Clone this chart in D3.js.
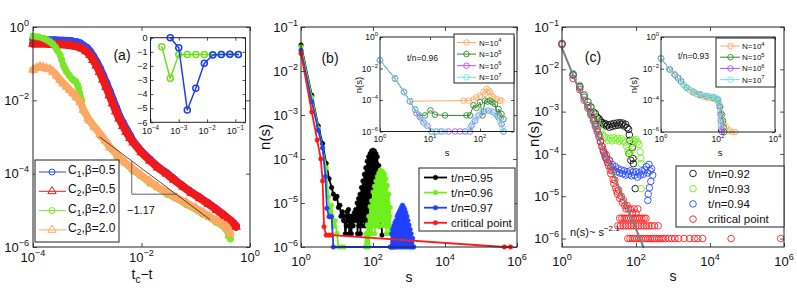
<!DOCTYPE html>
<html>
<head>
<meta charset="utf-8">
<script src="https://cdn.jsdelivr.net/npm/d3@7"></script>
<style>
  body { margin: 0; background: #fff; }
  svg { font-family: "Liberation Sans", Arial, Helvetica, sans-serif; }
</style>
</head>
<body>
<svg id="chart" width="797" height="293"></svg>
<script>
// values; log-log series are stored as [log10 x, log10 y]

// ---- panel (a): main
const aBlue = [[-4,-0.34],[-3.8,-0.34],[-3.6,-0.35],[-3.45,-0.36],[-3.3,-0.37],[-3.2,-0.4],[-3.13,-0.43],[-3.06,-0.5],[-3.0,-0.56],[-2.94,-0.67],[-2.88,-0.8],[-2.82,-0.95],[-2.76,-1.12],[-2.7,-1.32],[-2.64,-1.53],[-2.58,-1.75],[-2.52,-1.98],[-2.46,-2.2],[-2.4,-2.43],[-2.33,-2.62],[-2.27,-2.79],[-2.2,-2.97],[-2.15,-3.11],[-2.0,-3.38],[-1.84,-3.61],[-1.7,-3.8],[-1.54,-3.97],[-1.4,-4.14],[-1.23,-4.34],[-1.08,-4.5],[-0.92,-4.65],[-0.76,-4.81],[-0.61,-4.97],[-0.46,-5.15],[-0.31,-5.33],[-0.25,-5.42]];
const aRed = [[-4,-0.46],[-3.8,-0.46],[-3.6,-0.47],[-3.45,-0.48],[-3.3,-0.5],[-3.2,-0.53],[-3.1,-0.58],[-3.02,-0.66],[-2.95,-0.76],[-2.89,-0.9],[-2.83,-1.05],[-2.77,-1.23],[-2.71,-1.43],[-2.65,-1.64],[-2.59,-1.86],[-2.53,-2.08],[-2.47,-2.3],[-2.41,-2.5],[-2.34,-2.7],[-2.28,-2.86],[-2.21,-3.03],[-2.15,-3.15],[-2.0,-3.42],[-1.84,-3.65],[-1.7,-3.83],[-1.54,-4.0],[-1.4,-4.17],[-1.23,-4.36],[-1.08,-4.52],[-0.92,-4.67],[-0.76,-4.83],[-0.61,-4.99],[-0.46,-5.16],[-0.31,-5.34],[-0.26,-5.45]];
const aGreen = [[-4,-0.25],[-3.9,-0.27],[-3.81,-0.31],[-3.75,-0.35],[-3.69,-0.4],[-3.64,-0.46],[-3.59,-0.54],[-3.55,-0.64],[-3.5,-0.76],[-3.47,-0.9],[-3.44,-1.04],[-3.41,-1.13],[-3.38,-1.22],[-3.33,-1.32],[-3.29,-1.4],[-3.25,-1.45],[-3.21,-1.49],[-3.18,-1.58],[-3.16,-1.67],[-3.14,-1.8],[-3.12,-1.92],[-3.1,-2.02],[-3.07,-2.3],[-2.98,-2.55],[-2.76,-2.97],[-2.44,-3.55],[-2.15,-3.93],[-1.85,-4.26],[-1.52,-4.57],[-1.17,-4.85],[-0.87,-5.11],[-0.62,-5.33],[-0.45,-5.5],[-0.4,-5.7],[-0.36,-5.78]];
const aOrange = [[-4,-1.17],[-3.94,-1.12],[-3.87,-1.08],[-3.81,-1.1],[-3.75,-1.13],[-3.69,-1.15],[-3.63,-1.22],[-3.56,-1.33],[-3.5,-1.45],[-3.44,-1.54],[-3.38,-1.63],[-3.32,-1.72],[-3.26,-1.81],[-3.2,-1.92],[-3.13,-2.04],[-3.07,-2.26],[-2.98,-2.5],[-2.87,-2.72],[-2.76,-2.92],[-2.67,-3.1],[-2.58,-3.28],[-2.44,-3.5],[-2.3,-3.7],[-2.15,-3.88],[-2.0,-4.05],[-1.85,-4.21],[-1.7,-4.37],[-1.52,-4.52],[-1.35,-4.66],[-1.17,-4.8],[-1.0,-4.94],[-0.87,-5.06],[-0.74,-5.18],[-0.62,-5.28],[-0.5,-5.38],[-0.43,-5.44],[-0.4,-5.52],[-0.37,-5.63]];
const aFit = [[-2.77,-3.0],[-0.74,-5.25]];
const aSlope = [[-2.18,-3.65],[-2.18,-4.56],[-1.35,-4.56]];
const aLegend = ["1,β=0.5", "2,β=0.5", "1,β=2.0", "2,β=2.0"];
const aXTicks = [1e-4, 1e-2, 1];
const aYTicks = [1e-6, 1e-4, 1e-2, 1];

// ---- panel (a): inset, exponent vs t_c - t
const iaGreenX = [2.5e-4, 5e-4, 1e-3, 2e-3, 4e-3, 8e-3, 1.6e-2, 3.2e-2, 6.4e-2, 0.128];
const iaGreenY = [-0.64, -2.88, -1.2, -1.2, -1.2, -1.2, -1.2, -1.2, -1.2, -1.2];
const iaBlueX = [5e-4, 1e-3, 2e-3, 4e-3, 8e-3, 1.6e-2, 3.2e-2, 6.4e-2, 0.128];
const iaBlueY = [0, -0.71, -5.13, -3.59, -1.82, -1.23, -1.2, -1.18, -1.2];
const iaXTicks = [1e-4, 1e-3, 1e-2, 1e-1];
const iaYTicks = [0, -1, -2, -3, -4, -5, -6];

// ---- panel (b): main
const bBlack = [[0,-1.41],[0.3,-2.55],[0.48,-3.25],[0.6,-3.65],[0.7,-4.1],[0.78,-4.45],[0.85,-4.65],[0.9,-4.8],[0.95,-4.9],[1.0,-4.85],[1.04,-5.1],[1.08,-5.05],[1.11,-5.3],[1.15,-5.2],[1.18,-5.4],[1.2,-5.3],[1.23,-5.7],[1.26,-5.52],[1.28,-5.2],[1.3,-5.4],[1.32,-5.15],[1.34,-5.7],[1.36,-5.3],[1.38,-5.52],[1.4,-5.7],[1.42,-5.3],[1.45,-5.52],[1.48,-5.22],[1.5,-5.4],[1.52,-5.15],[1.54,-5.3],
  [1.56,-5.0],[1.57,-5.7],[1.58,-5.2],[1.6,-4.9],[1.61,-5.52],[1.62,-5.1],[1.64,-4.8],[1.65,-5.7],[1.66,-4.95],[1.68,-4.65],[1.69,-5.52],[1.7,-4.8],[1.72,-4.5],[1.73,-5.4],[1.74,-4.65],[1.76,-4.35],[1.77,-5.52],[1.78,-4.5],[1.8,-4.2],[1.81,-5.3],[1.82,-4.35],[1.84,-4.05],[1.85,-5.4],[1.86,-4.2],[1.88,-3.95],[1.89,-5.22],[1.9,-4.1],[1.92,-3.88],[1.93,-5.3],[1.94,-4.0],[1.96,-3.82],[1.97,-5.15],[1.98,-3.95],[2.0,-3.8],[2.01,-5.22],[2.02,-3.92],[2.04,-3.82],[2.05,-5.3],[2.06,-4.0],[2.08,-3.88],[2.09,-5.4],[2.1,-4.1],[2.12,-3.95],[2.13,-5.3],[2.14,-4.3],[2.16,-4.15],[2.17,-5.52],[2.18,-4.6],[2.2,-4.4],[2.21,-5.52],[2.22,-5.0],[2.23,-4.8],[2.24,-5.4],[2.25,-5.73]];
const bGreen = [[0,-1.45],[0.3,-2.6],[0.48,-3.3],[0.6,-3.75],[0.7,-4.2],[0.76,-4.86],[0.81,-5.31],[0.85,-5.05],[0.9,-5.54],[0.95,-5.4],[1.0,-5.69],[1.04,-6],[1.12,-6],[1.2,-6],[1.78,-6],
  [1.8,-5.7],[1.82,-6],[1.84,-5.5],[1.85,-6],[1.86,-5.7],[1.88,-5.3],[1.89,-6],[1.9,-5.52],[1.92,-5.08],[1.93,-5.7],[1.94,-5.3],[1.96,-4.95],[1.97,-5.7],[1.98,-5.15],[2.0,-4.75],[2.01,-5.52],[2.02,-5.0],[2.04,-4.62],[2.05,-5.7],[2.06,-4.85],[2.08,-4.5],[2.09,-5.52],[2.1,-4.7],[2.12,-4.4],[2.13,-5.4],[2.14,-4.6],[2.16,-4.32],[2.17,-5.52],[2.18,-4.5],[2.2,-4.25],[2.21,-5.4],[2.22,-4.45],[2.24,-4.27],[2.25,-5.52],[2.26,-4.5],[2.28,-4.3],[2.29,-5.4],[2.3,-4.55],[2.32,-4.35],[2.33,-5.52],[2.34,-4.65],[2.36,-4.45],[2.37,-5.7],[2.38,-4.8],[2.4,-4.6],[2.41,-5.52],[2.42,-5.0],[2.44,-4.8],[2.45,-5.7],[2.46,-5.3],[2.48,-5.1],[2.49,-5.7],[2.5,-5.6],[2.52,-6]];
const bBlue = [[0,-1.53],[0.3,-2.7],[0.48,-3.35],[0.6,-3.75],[0.68,-4.4],[0.72,-5.12],[0.78,-5.31],[0.85,-5.31],[0.9,-6],[2.48,-6],
  [2.5,-6],[2.52,-5.7],[2.53,-6],[2.55,-5.6],[2.56,-6],[2.58,-5.52],[2.59,-6],[2.61,-5.45],[2.62,-6],[2.64,-5.4],[2.65,-5.9],[2.67,-5.3],[2.68,-6],[2.7,-5.25],[2.71,-5.9],[2.73,-5.2],[2.74,-6],[2.76,-5.15],[2.77,-5.9],[2.79,-5.1],[2.8,-6],[2.82,-5.05],[2.83,-5.9],[2.85,-5.1],[2.86,-6],[2.88,-5.15],[2.89,-5.9],[2.91,-5.22],[2.92,-6],[2.94,-5.3],[2.95,-5.9],[2.97,-5.4],[2.98,-6],[3.0,-5.5],[3.01,-5.9],[3.03,-5.6],[3.04,-6],[3.06,-5.7],[3.08,-6],[3.1,-5.8],[3.13,-6]];
const bRed = [[0,-1.6],[0.3,-2.93],[0.45,-3.57],[0.55,-4.0],[0.6,-4.5],[0.64,-5.54],[0.7,-5.73],[0.78,-5.73],[0.86,-5.73],[5.65,-6],[5.82,-6]];
const bLegend = ["t/n=0.95", "t/n=0.96", "t/n=0.97", "critical point"];
const bXTicks = [1, 1e2, 1e4, 1e6];
const bYTicks = [1e-6, 1e-5, 1e-4, 1e-3, 1e-2, 1e-1];

// ---- panel (b): inset, t/n = 0.96 for several N
const ibOrange = [[0,-1.47],[0.3,-2.64],[0.48,-3.49],[0.6,-4.08],[1.67,-4.04],[1.77,-4.04],[1.87,-3.97],[1.93,-3.83],[2.0,-3.72],[2.07,-3.5],[2.1,-3.61],[2.13,-3.29],[2.17,-3.4],[2.2,-3.5],[2.23,-3.72],[2.27,-3.83],[2.33,-3.93],[2.4,-4.04],[2.43,-4.04]];
const ibGreen = [[0,-1.47],[0.3,-2.64],[0.48,-3.49],[0.6,-4.08],[0.7,-4.6],[0.79,-4.98],[0.9,-4.98],[1.01,-4.66],[1.1,-4.93],[1.3,-4.98],[1.73,-4.98],[1.8,-4.98],[1.87,-4.34],[1.93,-4.5],[2.0,-4.14],[2.05,-4.98],[2.1,-4.04],[2.15,-4.1],[2.2,-4.04],[2.25,-4.15],[2.3,-4.25],[2.35,-4.98],[2.37,-4.57],[2.43,-4.89],[2.47,-5.21]];
const ibPurple = [[0,-1.47],[0.3,-2.64],[0.48,-3.49],[0.6,-4.08],[0.73,-4.83],[0.8,-5.1],[0.87,-5.43],[0.95,-5.64],[1.03,-6],[1.13,-6],[1.23,-6],[1.37,-6],[1.5,-6],[1.6,-6],[1.7,-6],[1.8,-6],[1.83,-5.64],[1.9,-5.32],[1.97,-4.98],[2.07,-4.74],[2.17,-4.68],[2.27,-4.79],[2.37,-5.1],[2.43,-5.53],[2.47,-6]];
const ibCyan = [[0,-1.47],[0.3,-2.64],[0.48,-3.49],[0.6,-4.08],[0.7,-4.57],[0.79,-4.98],[0.87,-5.32],[0.93,-5.64],[1.03,-6],[1.12,-6],[1.2,-6],[1.3,-6],[1.73,-6],[1.8,-5.8],[1.87,-5.43],[1.93,-5.1],[2.03,-4.83],[2.13,-4.68],[2.23,-4.72],[2.33,-4.98],[2.4,-5.32],[2.45,-5.75],[2.47,-6]];
const insetLegend = ["4", "5", "6", "7"];
const ibXTicks = [1, 10, 100];
const insetYTicks = [1e-6, 1e-4, 1e-2, 1];

// ---- panel (c): main
const cBlack = [[0,-1.39],[0.3,-2.12],[0.48,-2.4],[0.6,-2.61],[0.7,-2.77],[0.78,-2.89],[0.85,-3.01],[0.9,-3.05],[0.95,-3.13],[1.0,-3.17],[1.04,-3.22],[1.08,-3.26],[1.12,-3.3],[1.16,-3.28],[1.2,-3.34],[1.24,-3.31],[1.28,-3.37],[1.32,-3.3],[1.36,-3.35],[1.4,-3.28],[1.44,-3.33],[1.48,-3.27],[1.52,-3.32],[1.56,-3.26],[1.6,-3.31],[1.64,-3.27],[1.68,-3.34],[1.72,-3.3],[1.76,-3.38],[1.8,-3.42],[1.82,-3.55],[1.83,-3.68],[1.81,-3.99],[1.86,-4.15],[1.9,-3.85],[1.92,-4.11],[1.93,-4.23],[1.98,-4.82]];
const cGreen = [[0,-1.39],[0.3,-2.1],[0.48,-2.38],[0.6,-2.6],[0.7,-2.78],[0.78,-2.92],[0.85,-3.05],[0.9,-3.15],[0.95,-3.25],[1.0,-3.35],[1.05,-3.45],[1.1,-3.55],[1.15,-3.6],[1.2,-3.62],[1.25,-3.68],[1.3,-3.63],[1.35,-3.69],[1.4,-3.62],[1.45,-3.67],[1.5,-3.63],[1.55,-3.7],[1.6,-3.64],[1.65,-3.69],[1.7,-3.72],[1.75,-3.82],[1.78,-3.92],[1.82,-4.0],[1.86,-3.95],[1.88,-3.75],[1.92,-3.67],[1.96,-3.7],[2.0,-3.66],[2.04,-3.72],[2.08,-3.78],[2.11,-3.95],[2.13,-4.1],[2.14,-4.23],[2.14,-4.82]];
const cBlue = [[0,-1.4],[0.3,-2.14],[0.48,-2.43],[0.6,-2.66],[0.7,-2.86],[0.78,-3.02],[0.85,-3.17],[0.9,-3.3],[0.95,-3.42],[1.0,-3.55],[1.04,-3.7],[1.08,-3.82],[1.12,-3.95],[1.16,-4.05],[1.2,-4.12],[1.24,-4.2],[1.28,-4.15],[1.32,-4.3],[1.36,-4.25],[1.4,-4.38],[1.44,-4.3],[1.48,-4.42],[1.52,-4.35],[1.56,-4.45],[1.6,-4.38],[1.64,-4.47],[1.68,-4.4],[1.72,-4.5],[1.76,-4.42],[1.8,-4.48],[1.84,-4.4],[1.88,-4.52],[1.92,-4.43],[1.96,-4.5],[2.0,-4.42],[2.04,-4.55],[2.08,-4.45],[2.12,-4.5],[2.16,-4.4],[2.2,-4.48],[2.24,-4.38],[2.28,-4.3],[2.32,-4.45],[2.35,-4.25],[2.38,-4.4],[2.42,-4.35],[2.45,-4.5],[2.4,-4.65],[2.36,-4.8],[2.33,-4.95],[2.32,-5.1]];
const cRed = [[0,-1.42],[0.3,-2.22],[0.48,-2.48],[0.6,-2.73],[0.7,-2.92],[0.78,-3.08],[0.85,-3.22],[0.9,-3.35],[0.95,-3.47],[1.0,-3.6],[1.04,-3.72],[1.08,-3.82],[1.11,-3.9],[1.15,-3.98],[1.18,-4.1],[1.2,-4.02],[1.23,-4.2],[1.26,-4.28],[1.28,-4.15],[1.3,-4.38],[1.32,-4.47],[1.35,-4.4],[1.38,-4.6],[1.4,-4.7],[1.43,-4.62],[1.45,-4.8],[1.48,-4.88],[1.5,-4.95],[1.53,-4.85],[1.56,-5.05],[1.6,-5.0],[1.63,-5.15],[1.66,-5.1],[1.7,-5.22],[1.73,-5.3],[1.76,-5.22],[1.8,-5.3],[1.85,-5.3],[1.9,-5.4],[1.95,-5.3],[2.0,-5.4],[2.05,-5.3],
  [1.56,-5.52],[1.62,-5.52],[1.68,-5.52],[1.74,-5.52],[1.8,-5.52],[1.86,-5.52],[1.92,-5.52],[1.98,-5.52],[2.04,-5.52],[2.1,-5.52],[2.16,-5.52],[2.22,-5.52],[2.27,-5.52],
  [1.51,-5.7],[1.58,-5.7],[1.65,-5.7],[1.72,-5.7],[1.79,-5.7],[1.86,-5.7],[1.93,-5.7],[2.0,-5.7],[2.07,-5.7],[2.14,-5.7],[2.21,-5.7],[2.28,-5.7],[2.35,-5.7],[2.42,-5.7],[2.5,-5.7],[2.6,-5.7],
  [1.78,-6],[1.84,-6],[1.9,-6],[1.96,-6],[2.02,-6],[2.08,-6],[2.14,-6],[2.2,-6],[2.26,-6],[2.32,-6],[2.38,-6],[2.44,-6],[2.5,-6],[2.56,-6],[2.62,-6],[2.68,-6],[2.74,-6],[2.8,-6],[2.88,-6],[2.96,-6],[3.05,-6],[3.15,-6],[3.3,-6],[3.45,-6],[3.58,-6],[3.67,-6],[3.8,-6],[4.57,-6],[5.91,-6]];
const cFit = [[0,-1.5],[2.2,-6.2]];
const cLegend = ["t/n=0.92", "t/n=0.93", "t/n=0.94", "critical point"];
const cXTicks = [1, 1e2, 1e4, 1e6];
const cYTicks = [1e-6, 1e-5, 1e-4, 1e-3, 1e-2, 1e-1];

// ---- panel (c): inset, t/n = 0.93 for several N
const icOrange = [[0,-1.35],[0.3,-2.06],[0.48,-2.4],[0.6,-2.62],[0.7,-2.82],[0.8,-3.02],[0.9,-3.22],[1.0,-3.36],[1.13,-3.52],[1.25,-3.62],[1.37,-3.7],[1.5,-3.78],[1.6,-3.82],[1.72,-3.86],[1.84,-3.9],[1.95,-3.98],[2.02,-4.15],[2.06,-4.4],[2.1,-4.8],[2.14,-5.2],[2.2,-5.5],[2.3,-5.7],[2.4,-5.9],[2.5,-6],[2.6,-6]];
const icGreen = [[0,-1.35],[0.3,-2.04],[0.48,-2.37],[0.6,-2.58],[0.7,-2.79],[0.9,-3.2],[1.13,-3.47],[1.37,-3.64],[1.6,-3.74],[1.84,-3.82],[2.0,-3.96],[2.08,-4.4],[2.14,-4.9],[2.18,-5.3],[2.2,-5.7],[2.22,-6]];
const icPurple = [[0,-1.35],[0.3,-2.04],[0.48,-2.37],[0.6,-2.58],[0.7,-2.79],[0.9,-3.2],[1.13,-3.46],[1.37,-3.63],[1.6,-3.73],[1.84,-3.8],[1.98,-3.93],[2.06,-4.4],[2.08,-4.9],[2.1,-5.3],[2.11,-5.6],[2.12,-5.85],[2.14,-6]];
const icCyan = [[0,-1.35],[0.28,-2.04],[0.47,-2.36],[0.57,-2.57],[0.67,-2.78],[0.75,-2.95],[0.82,-3.07],[0.9,-3.2],[1.0,-3.32],[1.13,-3.46],[1.25,-3.56],[1.37,-3.63],[1.5,-3.69],[1.6,-3.73],[1.72,-3.76],[1.84,-3.79],[1.92,-3.84],[1.98,-3.92],[2.02,-4.1],[2.05,-4.3],[2.07,-4.73],[2.09,-5.15],[2.12,-5.57]];
const icXTicks = [1, 1e2, 1e4];

const svg = d3.select("#chart");
const toVal = (p) => [10 ** p[0], 10 ** p[1]];
const INK = "#222";

function makePanel(box, x, y, white) {
  const g = svg.append("g");
  if (white) {
    g.append("rect")
      .attr("x", box.l).attr("y", box.t)
      .attr("width", box.r - box.l).attr("height", box.b - box.t)
      .attr("fill", "#fff");
  }
  x.range([box.l, box.r]);
  y.range([box.b, box.t]);
  return { g, x, y, box, data: g.append("g") };
}

function frame(p, xt, yt, len) {
  const { g, x, y, box } = p;
  const ax = g.append("g");
  const tick = (a, vals) => a.tickValues(vals).tickSizeInner(-len).tickSizeOuter(0).tickFormat("");
  ax.append("g").attr("transform", `translate(0,${box.b})`).call(tick(d3.axisBottom(x), xt));
  ax.append("g").attr("transform", `translate(0,${box.t})`).call(tick(d3.axisTop(x), xt));
  ax.append("g").attr("transform", `translate(${box.l},0)`).call(tick(d3.axisLeft(y), yt));
  ax.append("g").attr("transform", `translate(${box.r},0)`).call(tick(d3.axisRight(y), yt));
  ax.selectAll(".domain").remove();
  ax.selectAll("line").attr("stroke", INK).attr("stroke-width", 0.8);
  ax.append("rect")
    .attr("x", box.l).attr("y", box.t)
    .attr("width", box.r - box.l).attr("height", box.b - box.t)
    .attr("fill", "none").attr("stroke", INK).attr("stroke-width", 1);
}

function powLabel(g, px, py, e, fs, anchor) {
  const t = g.append("text")
    .attr("x", px).attr("y", py)
    .attr("font-size", fs).attr("text-anchor", anchor).attr("fill", "#111");
  t.append("tspan").text("10");
  t.append("tspan")
    .attr("font-size", fs * 0.7).attr("dy", -fs * 0.45)
    .text(e < 0 ? "\u2212" + -e : String(e));
}

function xPowLabels(p, vals, fs, dy) {
  vals.forEach((v) => powLabel(p.g, p.x(v), p.box.b + dy, Math.round(Math.log10(v)), fs, "middle"));
}

function yPowLabels(p, vals, fs, dx) {
  vals.forEach((v) => powLabel(p.g, p.box.l - dx, p.y(v) + fs * 0.36, Math.round(Math.log10(v)), fs, "end"));
}

function drawLine(p, vals, color, width) {
  p.data.append("path")
    .datum(vals)
    .attr("d", d3.line().x((d) => p.x(d[0])).y((d) => p.y(d[1])))
    .attr("fill", "none").attr("stroke", color)
    .attr("stroke-width", width)
    .attr("stroke-linejoin", "round").attr("stroke-linecap", "round");
}

function drawCircles(p, vals, color, r, filled, sw) {
  p.data.selectAll(null)
    .data(vals)
    .join("circle")
    .attr("cx", (d) => p.x(d[0])).attr("cy", (d) => p.y(d[1]))
    .attr("r", r)
    .attr("fill", filled ? color : "none")
    .attr("stroke", color).attr("stroke-width", sw);
}

function drawTriangles(p, vals, color, size, sw) {
  p.data.selectAll(null)
    .data(vals)
    .join("path")
    .attr("transform", (d) => `translate(${p.x(d[0])},${p.y(d[1])})`)
    .attr("d", d3.symbol(d3.symbolTriangle, size)())
    .attr("fill", "none")
    .attr("stroke", color).attr("stroke-width", sw);
}

function legendBox(g, x0, y0, x1, y1) {
  g.append("rect")
    .attr("x", x0).attr("y", y0)
    .attr("width", x1 - x0).attr("height", y1 - y0)
    .attr("fill", "#fff").attr("stroke", INK).attr("stroke-width", 1);
}

function legendMark(g, cx, cy, o) {
  if (o.shape === "tri") {
    g.append("path")
      .attr("transform", `translate(${cx},${cy})`)
      .attr("d", d3.symbol(d3.symbolTriangle, o.size)())
      .attr("fill", "none").attr("stroke", o.color).attr("stroke-width", o.sw);
  } else {
    g.append("circle")
      .attr("cx", cx).attr("cy", cy).attr("r", o.r)
      .attr("fill", o.filled ? o.color : "none")
      .attr("stroke", o.color).attr("stroke-width", o.sw);
  }
}

function plainText(g, x, y, str, fs, anchor) {
  return g.append("text")
    .attr("x", x).attr("y", y)
    .attr("font-size", fs).attr("text-anchor", anchor || "start")
    .attr("fill", "#111").text(str);
}

// ================= panel (a)
const pa = makePanel({ l: 33, r: 250, t: 27, b: 247 },
  d3.scaleLog().domain([1e-4, 1]), d3.scaleLog().domain([1e-6, 1]), false);
const aColors = ["#2a4bf5", "#f01a1a", "#7be52c", "#ffa864"];
[[aBlue, 0, "o", 7], [aRed, 1, "t", 8], [aGreen, 2, "o", 5.5], [aOrange, 3, "t", 7.5]].forEach(([arr, k, shape, w]) => {
  const vals = arr.map(toVal);
  drawLine(pa, vals, aColors[k], w);
  if (shape === "o") drawCircles(pa, vals, aColors[k], 3, false, 1.1);
  else drawTriangles(pa, vals, aColors[k], 30, 1.1);
});
drawLine(pa, aFit.map(toVal), "#222", 0.8);
pa.data.append("path")
  .datum(aSlope.map(toVal))
  .attr("d", d3.line().x((d) => pa.x(d[0])).y((d) => pa.y(d[1])))
  .attr("fill", "none").attr("stroke", "#555").attr("stroke-width", 0.9);
plainText(pa.g, 141, 214, "\u22121.17", 11, "middle");
frame(pa, aXTicks, aYTicks, 4);
xPowLabels(pa, aXTicks, 13, 15);
yPowLabels(pa, aYTicks, 13, 4);
plainText(pa.g, 122, 60, "(a)", 14, "middle");
{
  const t = pa.g.append("text").attr("x", 142).attr("y", 279).attr("font-size", 14)
    .attr("text-anchor", "middle").attr("fill", "#111");
  t.append("tspan").text("t");
  t.append("tspan").attr("font-size", 10).attr("dy", 4).text("c");
  t.append("tspan").attr("dy", -4).text("\u2212t");
}
// legend (a)
legendBox(pa.g, 35, 160, 119, 242);
aLegend.forEach((lab, i) => {
  const yy = 172 + i * 19.3;
  const tri = i % 2 === 1;
  pa.g.append("line").attr("x1", 39).attr("x2", 66).attr("y1", yy).attr("y2", yy)
    .attr("stroke", aColors[i]).attr("stroke-width", 1);
  legendMark(pa.g, 52, yy, { shape: tri ? "tri" : "o", size: 30, r: 3, color: aColors[i], sw: 1 });
  const t = pa.g.append("text").attr("x", 68).attr("y", yy + 2).attr("font-size", 12).attr("fill", "#111");
  t.append("tspan").text("C");
  t.append("tspan").attr("font-size", 8.5).attr("dy", 3).text(lab.charAt(0));
  t.append("tspan").attr("dy", -3).text(lab.slice(1));
});

// inset (a)
const pia = makePanel({ l: 150.5, r: 245.5, t: 37.7, b: 122.3 },
  d3.scaleLog().domain([1e-4, 10 ** -0.64]), d3.scaleLinear().domain([-6, 0]), true);
const iaGreen = iaGreenX.map((v, i) => [v, iaGreenY[i]]);
const iaBlue = iaBlueX.map((v, i) => [v, iaBlueY[i]]);
drawLine(pia, iaGreen, "#6ee01c", 1.5);
drawCircles(pia, iaGreen, "#6ee01c", 3, false, 1.5);
drawLine(pia, iaBlue, "#2040e8", 1.5);
drawCircles(pia, iaBlue, "#2040e8", 3, false, 1.5);
frame(pia, iaXTicks, iaYTicks, 3);
xPowLabels(pia, iaXTicks, 9, 11.5);
iaYTicks.forEach((v) => plainText(pia.g, pia.box.l - 3, pia.y(v) + 3.2, v < 0 ? "\u2212" + -v : String(v), 9, "end"));

// ================= panel (b)
const pb = makePanel({ l: 301, r: 517, t: 27, b: 247 },
  d3.scaleLog().domain([1, 1e6]), d3.scaleLog().domain([1e-6, 1e-1]), false);
const bColors = ["#000000", "#6ff01c", "#2040ff", "#ff1a1a"];
[bBlack, bGreen, bBlue, bRed].forEach((arr, k) => {
  const vals = arr.map(toVal);
  drawLine(pb, vals, bColors[k], 1.8);
  drawCircles(pb, vals, bColors[k], 2.3, true, 0.5);
});
frame(pb, bXTicks, bYTicks, 4);
xPowLabels(pb, bXTicks, 13, 19);
yPowLabels(pb, bYTicks, 13, 3);
plainText(pb.g, 330, 63, "(b)", 14, "middle");
plainText(pb.g, 409, 282, "s", 14, "middle");
pb.g.append("text").attr("transform", "translate(270,137) rotate(-90)")
  .attr("font-size", 15).attr("text-anchor", "middle").attr("fill", "#111").text("n(s)");
legendBox(pb.g, 419, 168, 515, 231);
bLegend.forEach((lab, i) => {
  const yy = 177.5 + i * 15.1;
  pb.g.append("line").attr("x1", 424).attr("x2", 447).attr("y1", yy).attr("y2", yy)
    .attr("stroke", bColors[i]).attr("stroke-width", 1.8);
  legendMark(pb.g, 435.5, yy, { r: 2.3, color: bColors[i], filled: true, sw: 0.5 });
  plainText(pb.g, 451, yy + 4, lab, 11.5);
});

// inset (b)
const insetColors = ["#ffaa66", "#2e8b2e", "#b54cff", "#6ee8d5"];
const pib = makePanel({ l: 380, r: 514, t: 37, b: 131.5 },
  d3.scaleLog().domain([1, 10 ** 2.68]), d3.scaleLog().domain([1e-6, 1]), true);
[ibOrange, ibGreen, ibPurple, ibCyan].forEach((arr, k) => {
  const vals = arr.map(toVal);
  drawLine(pib, vals, insetColors[k], 1);
  drawCircles(pib, vals, insetColors[k], 2.8, false, 0.9);
});
frame(pib, ibXTicks, insetYTicks, 3);
xPowLabels(pib, ibXTicks, 8.5, 10);
yPowLabels(pib, insetYTicks, 8.5, 2);
plainText(pib.g, 407, 61, "t/n=0.96", 8.5);
plainText(pib.g, 447, 156, "s", 9.5, "middle");
pib.g.append("text").attr("transform", "translate(362,85) rotate(-90)")
  .attr("font-size", 9.5).attr("text-anchor", "middle").attr("fill", "#111").text("n(s)");

function insetLegend2(p, x0, y0, x1, y1, rowY, rowDy, lx, mx, tx) {
  legendBox(p.g, x0, y0, x1, y1);
  insetLegend.forEach((e, i) => {
    const yy = rowY + i * rowDy;
    p.g.append("line").attr("x1", lx[0]).attr("x2", lx[1]).attr("y1", yy).attr("y2", yy)
      .attr("stroke", insetColors[i]).attr("stroke-width", 1);
    legendMark(p.g, mx, yy, { r: 2.8, color: insetColors[i], sw: 0.9 });
    const t = p.g.append("text").attr("x", tx).attr("y", yy + 3).attr("font-size", 8).attr("fill", "#111");
    t.append("tspan").text("N=10");
    t.append("tspan").attr("font-size", 5.8).attr("dy", -3.5).text(e);
  });
}
insetLegend2(pib, 454, 34, 514, 83, 42.5, 11.6, [457, 476], 466.5, 479);

// ================= panel (c)
const pc = makePanel({ l: 562, r: 784, t: 27, b: 247 },
  d3.scaleLog().domain([1, 1e6]), d3.scaleLog().domain([10 ** -6.2, 1e-1]), false);
const cColors = ["#111111", "#6ff01c", "#2a4cff", "#ff2020"];
[cBlack, cGreen, cBlue, cRed].forEach((arr, k) => {
  drawCircles(pc, arr.map(toVal), cColors[k], 3.3, false, 0.9);
});
drawLine(pc, cFit.map(toVal), "#808080", 2);
frame(pc, cXTicks, cYTicks, 4);
xPowLabels(pc, cXTicks, 13, 19);
yPowLabels(pc, cYTicks, 13, 3);
plainText(pc.g, 593, 62, "(c)", 14, "middle");
plainText(pc.g, 673, 281, "s", 14, "middle");
pc.g.append("text").attr("transform", "translate(539,134) rotate(-90)")
  .attr("font-size", 15).attr("text-anchor", "middle").attr("fill", "#111").text("n(s)");
{
  const t = pc.g.append("text").attr("x", 570).attr("y", 236).attr("font-size", 11).attr("fill", "#111");
  t.append("tspan").text("n(s)~ s");
  t.append("tspan").attr("font-size", 8).attr("dy", -5).text("\u22122.1");
}
legendBox(pc.g, 676, 166, 784, 227);
cLegend.forEach((lab, i) => {
  const yy = 173.5 + i * 15.2;
  legendMark(pc.g, 693, yy, { r: 3.3, color: cColors[i], sw: 0.9 });
  plainText(pc.g, 708, yy + 4, lab, 11.5);
});

// inset (c)
const pic = makePanel({ l: 661, r: 775, t: 37, b: 132 },
  d3.scaleLog().domain([1, 1e4]), d3.scaleLog().domain([1e-6, 1]), true);
[icOrange, icGreen, icPurple, icCyan].forEach((arr, k) => {
  const vals = arr.map(toVal);
  drawLine(pic, vals, insetColors[k], 1);
  drawCircles(pic, vals, insetColors[k], 2.8, false, 0.9);
});
frame(pic, icXTicks, insetYTicks, 3);
xPowLabels(pic, icXTicks, 8.5, 10);
yPowLabels(pic, insetYTicks, 8.5, 2);
plainText(pic.g, 678, 59, "t/n=0.93", 8.5);
plainText(pic.g, 720, 156, "s", 9.5, "middle");
pic.g.append("text").attr("transform", "translate(637,85) rotate(-90)")
  .attr("font-size", 9.5).attr("text-anchor", "middle").attr("fill", "#111").text("n(s)");
insetLegend2(pic, 716, 38, 775, 87, 46, 11.2, [720, 740], 730.5, 742);
</script>
</body>
</html>
